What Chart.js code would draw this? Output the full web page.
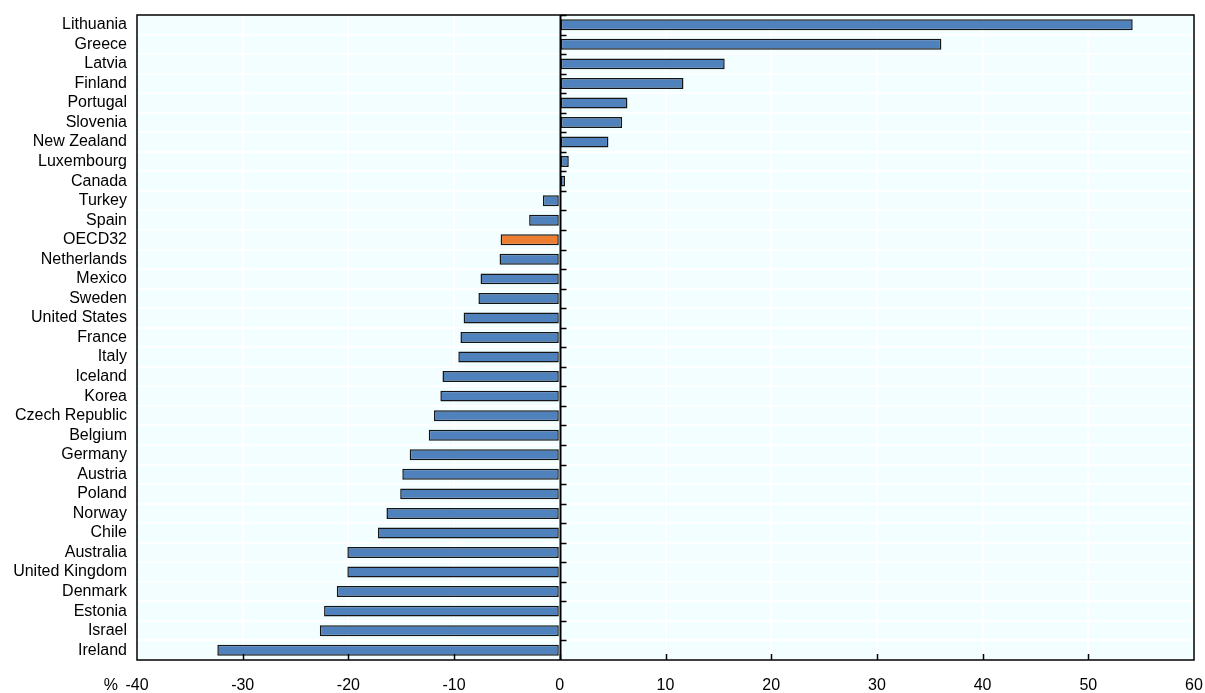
<!DOCTYPE html>
<html>
<head>
<meta charset="utf-8">
<script src="https://cdn.jsdelivr.net/npm/chart.js@4/dist/chart.umd.min.js"></script>
<style>
html,body{margin:0;padding:0;background:#fff;}
#wrap{width:1205px;height:693px;position:relative;}
</style>
</head>
<body>
<div id="wrap"><canvas id="c" width="1205" height="693"></canvas></div>
<script>
const categories = ["Lithuania","Greece","Latvia","Finland","Portugal","Slovenia","New Zealand","Luxembourg","Canada","Turkey","Spain","OECD32","Netherlands","Mexico","Sweden","United States","France","Italy","Iceland","Korea","Czech Republic","Belgium","Germany","Austria","Poland","Norway","Chile","Australia","United Kingdom","Denmark","Estonia","Israel","Ireland"];
const values = [54.2,36.1,15.6,11.7,6.4,5.9,4.6,0.85,0.5,-1.6,-2.9,-5.6,-5.7,-7.5,-7.7,-9.1,-9.4,-9.6,-11.1,-11.3,-11.9,-12.4,-14.2,-14.9,-15.1,-16.4,-17.2,-20.1,-20.1,-21.1,-22.3,-22.7,-32.4];
const highlight = "OECD32";
const xMin = -40, xMax = 60, xStep = 10;
const unitLabel = "%";

const FONT = "'Liberation Sans', Arial, sans-serif";
const barColors = categories.map(c => c === highlight ? '#ED7D31' : '#4F81BD');

const framePlugin = {
  id: 'frame',
  beforeDraw(chart) {
    const {ctx, chartArea:a} = chart;
    ctx.save();
    ctx.fillStyle = '#F2FEFF';
    ctx.fillRect(a.left, a.top, a.right - a.left, a.bottom - a.top);
    ctx.restore();
  },
  afterDatasetsDraw(chart) {
    const {ctx, chartArea:a, scales} = chart;
    const x = scales.x, y = scales.y;
    ctx.save();
    ctx.strokeStyle = '#000';
    ctx.lineWidth = 1.5;
    ctx.strokeRect(a.left, a.top, a.right - a.left, a.bottom - a.top);
    const x0 = Math.round(x.getPixelForValue(0)) + 0.5;
    ctx.lineWidth = 2;
    ctx.beginPath(); ctx.moveTo(x0, a.top); ctx.lineTo(x0, a.bottom); ctx.stroke();
    ctx.lineWidth = 1.5;
    const n = categories.length;
    const step = (a.bottom - a.top) / n;
    for (let i = 0; i < n; i++) {
      const yy = Math.round(y.getPixelForValue(i) - step / 2) + 0.5;
      ctx.beginPath(); ctx.moveTo(x0, yy); ctx.lineTo(x0 + 6, yy); ctx.stroke();
    }
    for (let v = xMin + xStep; v < xMax; v += xStep) {
      const xx = Math.round(x.getPixelForValue(v)) + 0.5;
      ctx.beginPath(); ctx.moveTo(xx, a.bottom); ctx.lineTo(xx, a.bottom - 6); ctx.stroke();
    }
    ctx.fillStyle = '#000';
    ctx.font = '16px ' + FONT;
    ctx.textAlign = 'right';
    ctx.textBaseline = 'middle';
    ctx.fillText(unitLabel, 118, 686);
    ctx.restore();
  }
};

new Chart(document.getElementById('c'), {
  type: 'bar',
  data: {
    labels: categories,
    datasets: [{
      data: values,
      backgroundColor: barColors,
      borderColor: '#151515',
      borderWidth: 1.5,
      borderSkipped: false,
      barPercentage: 0.56,
      categoryPercentage: 1
    }]
  },
  options: {
    indexAxis: 'y',
    responsive: false,
    animation: false,
    layout: { padding: { top: 15, right: 11, left: 0, bottom: 0 } },
    plugins: { legend: { display: false }, tooltip: { enabled: false } },
    scales: {
      x: {
        min: xMin, max: xMax,
        border: { display: false },
        grid: { color: '#FFFFFF', lineWidth: 2, drawTicks: false },
        afterFit: s => { s.height = 33; s.paddingLeft = 0; s.paddingRight = 0; },
        ticks: {
          stepSize: xStep,
          color: '#000',
          padding: 16,
          maxRotation: 0,
          font: { family: FONT, size: 16 },
          callback: v => String(v)
        }
      },
      y: {
        offset: true,
        border: { display: false },
        grid: { color: '#FFFFFF', lineWidth: 2, drawTicks: false, offset: true },
        afterFit: s => { s.width = 137; s.paddingTop = 0; s.paddingBottom = 0; },
        ticks: {
          color: '#000',
          padding: 10,
          autoSkip: false,
          font: { family: FONT, size: 16 }
        }
      }
    }
  },
  plugins: [framePlugin]
});
</script>
</body>
</html>
